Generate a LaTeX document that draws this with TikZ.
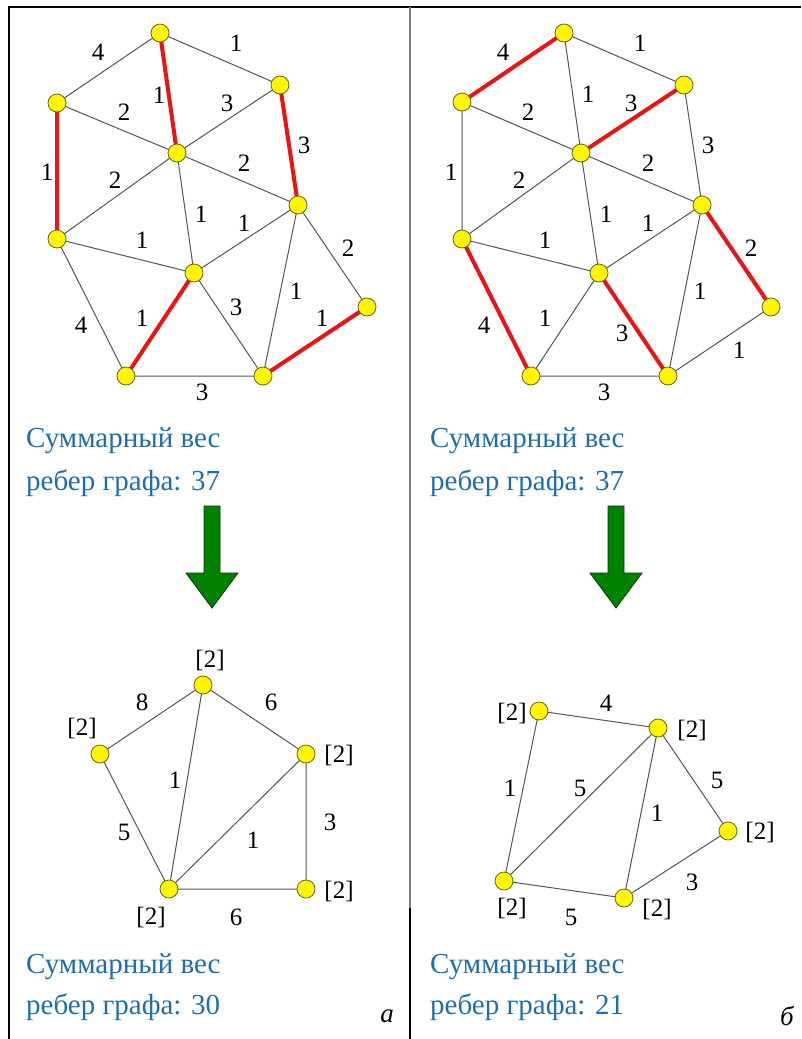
\documentclass[tikz,border=0pt]{standalone}
\usepackage{fontspec}
\setmainfont{Liberation Serif}
\newfontfamily\tms{Liberation Serif}
\definecolor{vyellow}{RGB}{255,245,0}
\definecolor{vborder}{RGB}{110,100,20}
\definecolor{egray}{RGB}{85,85,85}
\definecolor{ered}{RGB}{235,20,20}
\definecolor{tblue}{RGB}{30,110,175}
\definecolor{agreen}{RGB}{0,130,0}
\definecolor{adark}{RGB}{0,60,0}
\tikzset{
  vtx/.style={circle, draw=vborder, fill=vyellow, minimum size=18pt, inner sep=0pt, line width=0.8pt},
  gedge/.style={draw=egray, line width=1pt},
  redge/.style={draw=ered, line width=4pt},
  lbl/.style={font=\tms\fontsize{25}{28}\selectfont, inner sep=0pt},
  capt/.style={font=\tms\fontsize{29}{32}\selectfont, text=tblue, anchor=base west, inner sep=0pt},
  bigarrow/.style={fill=agreen, draw=adark, line width=0.8pt},
  frameline/.style={draw=black, line width=1.5pt}
}
\begin{document}
\begin{tikzpicture}[x=1pt,y=-1pt]
\useasboundingbox (0,0) rectangle (801,1039);
\fill[white] (0,0) rectangle (801,1039);
% frame
\draw[frameline] (9,1039) -- (9,7) -- (801,7);
\draw[draw=gray, line width=1.5pt] (410,7) -- (410,908);
\draw[draw=black, line width=1.5pt] (410,908) -- (410,1039);

% ===== top-left graph =====
\coordinate (LA) at (160,33);
\coordinate (LB) at (57,103);
\coordinate (LC) at (280,85);
\coordinate (LD) at (177,153);
\coordinate (LE) at (298,205);
\coordinate (LF) at (57,239);
\coordinate (LG) at (194,273);
\coordinate (LH) at (367,307);
\coordinate (LI) at (126,376);
\coordinate (LJ) at (263,376);
\draw[gedge] (LA)--(LB) (LA)--(LC) (LB)--(LD) (LC)--(LD) (LF)--(LD) (LD)--(LE)
  (LD)--(LG) (LG)--(LE) (LF)--(LG) (LE)--(LH) (LE)--(LJ) (LF)--(LI) (LG)--(LJ) (LI)--(LJ);
\draw[redge] (LA)--(LD) (LC)--(LE) (LB)--(LF) (LG)--(LI) (LH)--(LJ);
\foreach \n in {LA,LB,LC,LD,LE,LF,LG,LH,LI,LJ} \node[vtx] (v\n) at (\n) {};
\node[lbl] (l1) at (98,52) {4};
\node[lbl] (l2) at (236,43) {1};
\node[lbl] (l3) at (159,95) {1};
\node[lbl] (l4) at (124,112) {2};
\node[lbl] (l5) at (227,103) {3};
\node[lbl] (l6) at (304,145) {3};
\node[lbl] (l7) at (47,172) {1};
\node[lbl] (l8) at (115,180) {2};
\node[lbl] (l9) at (244,163) {2};
\node[lbl] (l10) at (201,214) {1};
\node[lbl] (l11) at (244,223) {1};
\node[lbl] (l12) at (142,240) {1};
\node[lbl] (l13) at (348,248) {2};
\node[lbl] (l14) at (296,291) {1};
\node[lbl] (l15) at (81,325) {4};
\node[lbl] (l16) at (142,318) {1};
\node[lbl] (l17) at (236,307) {3};
\node[lbl] (l18) at (322,318) {1};
\node[lbl] (l19) at (202,392) {3};

% ===== top-right graph =====
\coordinate (RA) at (564,33);
\coordinate (RB) at (462,102);
\coordinate (RC) at (684,85);
\coordinate (RD) at (581,153);
\coordinate (RE) at (702,205);
\coordinate (RF) at (462,239);
\coordinate (RG) at (599,273);
\coordinate (RH) at (771,307);
\coordinate (RI) at (531,376);
\coordinate (RJ) at (668,376);
\draw[gedge] (RA)--(RC) (RA)--(RD) (RB)--(RD) (RC)--(RE) (RB)--(RF) (RF)--(RD) (RD)--(RE)
  (RD)--(RG) (RG)--(RE) (RF)--(RG) (RE)--(RJ) (RG)--(RI) (RH)--(RJ) (RI)--(RJ);
\draw[redge] (RA)--(RB) (RC)--(RD) (RE)--(RH) (RF)--(RI) (RG)--(RJ);
\foreach \n in {RA,RB,RC,RD,RE,RF,RG,RH,RI,RJ} \node[vtx] (v\n) at (\n) {};
\node[lbl] (m1) at (503,52) {4};
\node[lbl] (m2) at (640,43) {1};
\node[lbl] (m3) at (588,94) {1};
\node[lbl] (m4) at (528,112) {2};
\node[lbl] (m5) at (631,103) {3};
\node[lbl] (m6) at (708,145) {3};
\node[lbl] (m7) at (451,172) {1};
\node[lbl] (m8) at (519,180) {2};
\node[lbl] (m9) at (648,163) {2};
\node[lbl] (m10) at (606,214) {1};
\node[lbl] (m11) at (648,223) {1};
\node[lbl] (m12) at (545,240) {1};
\node[lbl] (m13) at (751,248) {2};
\node[lbl] (m14) at (700,291) {1};
\node[lbl] (m15) at (484,325) {4};
\node[lbl] (m16) at (545,318) {1};
\node[lbl] (m17) at (622,333) {3};
\node[lbl] (m18) at (739,350) {1};
\node[lbl] (m19) at (604,392) {3};

% captions top
\node[capt] (c1) at (26,447) {Суммарный вес};
\node[capt] (c2) at (26,490) {ребер графа: 37};
\node[capt] (c3) at (430,447) {Суммарный вес};
\node[capt] (c4) at (430,490) {ребер графа: 37};

% arrows
\draw[bigarrow] (204,506) -- (220,506) -- (220,573) -- (238,573) -- (212,608) -- (186,573) -- (204,573) -- cycle;
\draw[bigarrow] (608,506) -- (624,506) -- (624,573) -- (642,573) -- (616,608) -- (590,573) -- (608,573) -- cycle;

% ===== bottom-left graph =====
\coordinate (CP1) at (203,685);
\coordinate (CP2) at (100,754);
\coordinate (CP3) at (306,754);
\coordinate (CP4) at (169,889);
\coordinate (CP5) at (306,889);
\draw[gedge] (CP1)--(CP2) (CP1)--(CP3) (CP1)--(CP4) (CP2)--(CP4) (CP3)--(CP4) (CP3)--(CP5) (CP4)--(CP5);
\foreach \n in {CP1,CP2,CP3,CP4,CP5} \node[vtx] (v\n) at (\n) {};
\node[lbl] (b1) at (142,702) {8};
\node[lbl] (b2) at (271,702) {6};
\node[lbl] (b3) at (175,780) {1};
\node[lbl] (b4) at (124,832) {5};
\node[lbl] (b5) at (253,840) {1};
\node[lbl] (b6) at (330,822) {3};
\node[lbl] (b7) at (236,917) {6};
\node[lbl] (k1) at (210,660) {[2]};
\node[lbl] (k2) at (82,728) {[2]};
\node[lbl] (k3) at (339,755) {[2]};
\node[lbl] (k4) at (339,891) {[2]};
\node[lbl] (k5) at (151,917) {[2]};

% ===== bottom-right graph =====
\coordinate (CQ1) at (539,711);
\coordinate (CQ2) at (658,728);
\coordinate (CQ3) at (728,831);
\coordinate (CQ4) at (504,881);
\coordinate (CQ5) at (624,898);
\draw[gedge] (CQ1)--(CQ2) (CQ1)--(CQ4) (CQ4)--(CQ2) (CQ2)--(CQ5) (CQ2)--(CQ3) (CQ5)--(CQ3) (CQ4)--(CQ5);
\foreach \n in {CQ1,CQ2,CQ3,CQ4,CQ5} \node[vtx] (v\n) at (\n) {};
\node[lbl] (d1) at (606,703) {4};
\node[lbl] (d2) at (510,788) {1};
\node[lbl] (d3) at (580,788) {5};
\node[lbl] (d4) at (657,813) {1};
\node[lbl] (d5) at (717,780) {5};
\node[lbl] (d6) at (692,882) {3};
\node[lbl] (d7) at (571,917) {5};
\node[lbl] (j1) at (512,713) {[2]};
\node[lbl] (j2) at (692,730) {[2]};
\node[lbl] (j3) at (760,832) {[2]};
\node[lbl] (j4) at (512,908) {[2]};
\node[lbl] (j5) at (657,909) {[2]};

% captions bottom
\node[capt] (c5) at (26,973) {Суммарный вес};
\node[capt] (c6) at (26,1014) {ребер графа: 30};
\node[capt] (c7) at (430,973) {Суммарный вес};
\node[capt] (c8) at (430,1014) {ребер графа: 21};
\node[lbl, font=\tms\fontsize{27}{30}\selectfont\itshape] (ta) at (387,1016) {а};
\node[lbl, font=\tms\fontsize{27}{30}\selectfont\itshape] (tb) at (787,1016) {б};
\end{tikzpicture}
\end{document}
